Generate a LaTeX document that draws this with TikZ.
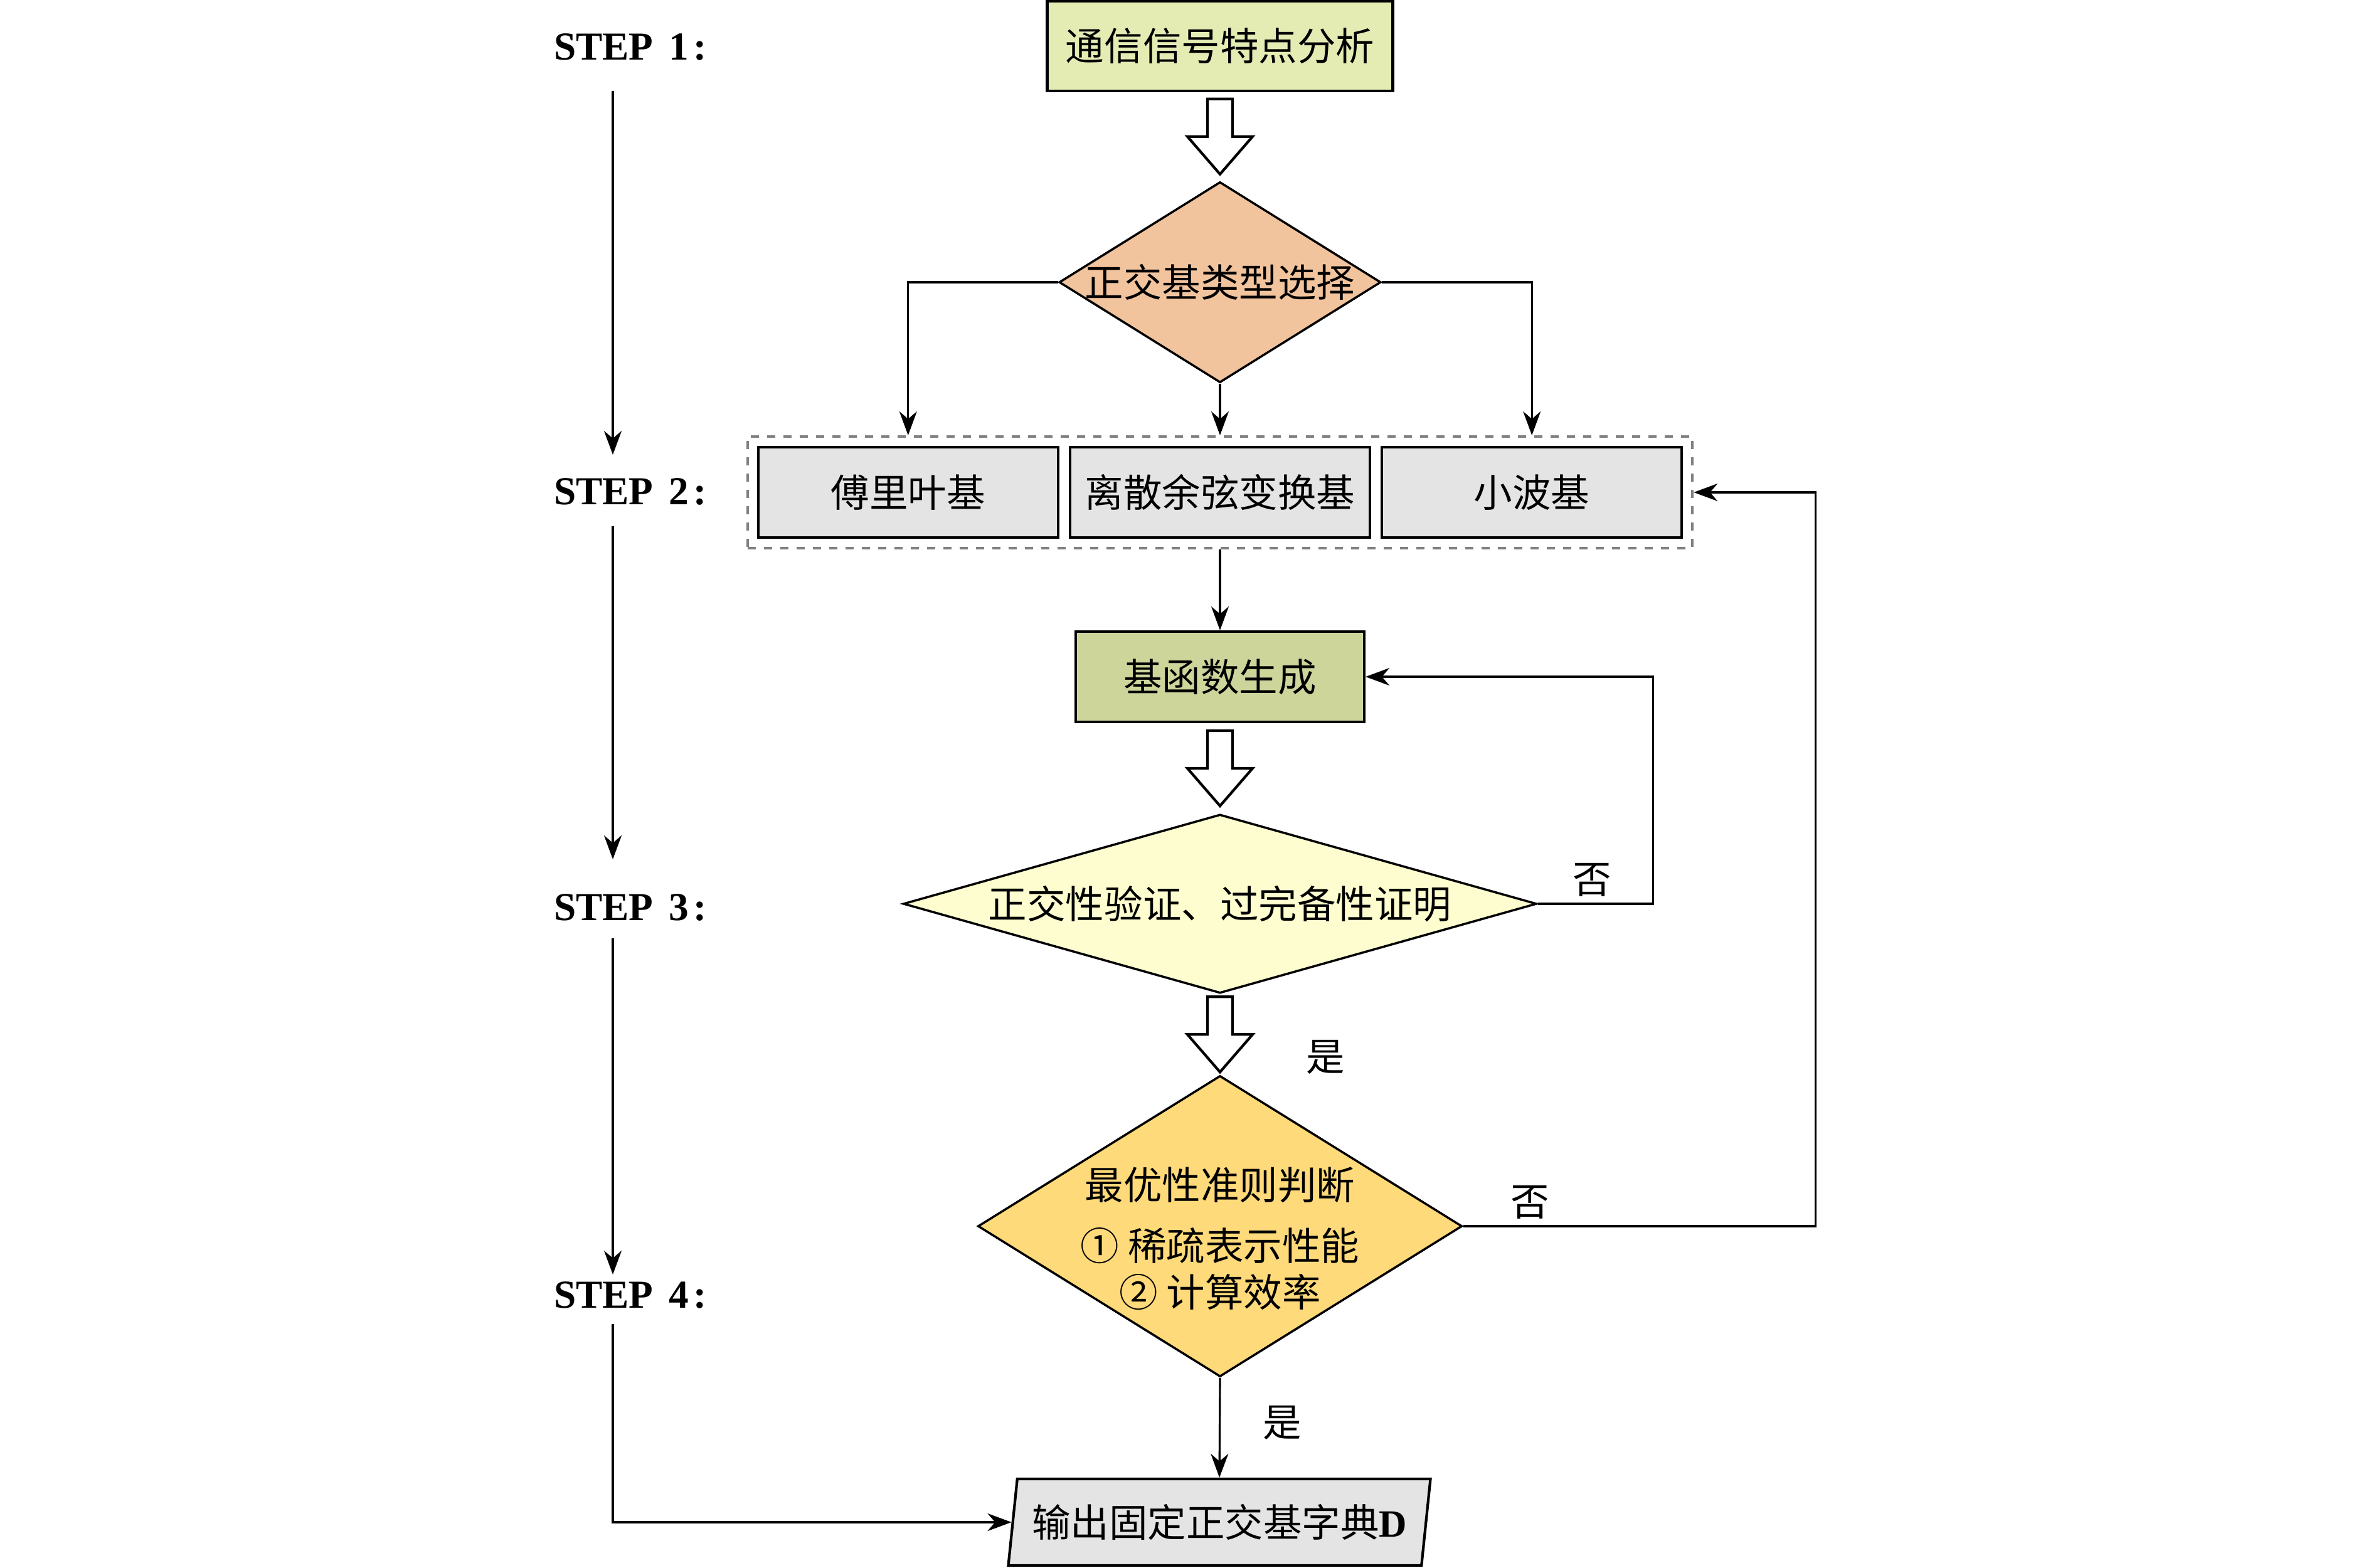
\documentclass[tikz,border=0pt]{standalone}
\usepackage{fontspec}
\newfontfamily\cjk{Noto Sans CJK SC}
\newfontfamily\stepfont{Liberation Serif}
\usetikzlibrary{positioning,shapes.geometric,arrows.meta,fit,calc}

\definecolor{sigfill}{HTML}{E4ECB4}
\definecolor{typefill}{HTML}{F2C49E}
\definecolor{basefill}{HTML}{E4E4E4}
\definecolor{genfill}{HTML}{CDD59B}
\definecolor{orthofill}{HTML}{FDFDD0}
\definecolor{optfill}{HTML}{FFDA7A}

\tikzset{
	box/.style={draw,line width=1.2pt,inner sep=0,minimum height=1.44cm,font={\fontsize{17.5pt}{21pt}\cjk}},
	choice/.style={draw,diamond,line width=1pt,inner sep=-1mm,font={\fontsize{17.5pt}{21pt}\cjk}},
	outbox/.style={draw,trapezium,trapezium left angle=76,trapezium right angle=104,trapezium stretches body,
		line width=1.2pt,fill=basefill,inner sep=0,minimum width=6.73cm,minimum height=1.38cm,font={\fontsize{17.5pt}{21pt}\cjk}},
	group/.style={draw=gray,line width=1.1pt,dash pattern=on 3.7pt off 3.7pt,inner sep=0.15cm},
	txt/.style={inner sep=0,font={\fontsize{17.5pt}{21pt}\cjk}},
	lbl/.style={inner sep=1mm,font={\fontsize{17.5pt}{21pt}\cjk}},
	steplbl/.style={inner sep=0,font={\fontsize{18pt}{20pt}\stepfont\bfseries}},
	bigarrow/.pic={\draw[line width=1.2pt,fill=white] (-0.2,0.6) -- (0.2,0.6) -- (0.2,0) -- (0.52,0) -- (0,-0.6) -- (-0.52,0) -- (-0.2,0) -- cycle;}
}

\begin{document}
\begin{tikzpicture}[>={Stealth[length=3.8mm,width=2.8mm,inset=1.2mm]},line width=0.9pt]
	\useasboundingbox (0,0) rectangle (37.8,-25);
	% step labels
	\node[steplbl] (s1) at (10.05,-0.75) {STEP\hspace{0.25cm}1\hspace{0.08cm}:};
	\node[steplbl] (s2) at (10.05,-7.84) {STEP\hspace{0.25cm}2\hspace{0.08cm}:};
	\node[steplbl] (s3) at (10.05,-14.47) {STEP\hspace{0.25cm}3\hspace{0.08cm}:};
	\node[steplbl] (s4) at (10.05,-20.65) {STEP\hspace{0.25cm}4\hspace{0.08cm}:};
	% main column
	\node[box,fill=sigfill,minimum width=5.51cm,minimum height=1.43cm] (sig) at (19.45,-0.735) {通信信号特点分析};
	\node[choice,fill=typefill,shape aspect=1.6,minimum width=5.13cm,minimum height=3.2cm] (type) at (19.45,-4.5) {正交基类型选择};
	\node[box,fill=basefill,minimum width=4.78cm] (dct) at (19.45,-7.85) {离散余弦变换基};
	\node[box,fill=basefill,minimum width=4.78cm,left=0.15cm of dct] (fourier) {傅里叶基};
	\node[box,fill=basefill,minimum width=4.78cm,right=0.15cm of dct] (wavelet) {小波基};
	\node[group,fit=(fourier)(wavelet)] (grp) {};
	\node[box,fill=genfill,minimum width=4.6cm] (gen) at (19.45,-10.79) {基函数生成};
	\node[choice,fill=orthofill,shape aspect=3.54,minimum width=10.1cm,minimum height=2.85cm] (ortho) at (19.45,-14.41) {正交性验证、过完备性证明};
	\node[choice,fill=optfill,shape aspect=1.61,minimum width=7.72cm,minimum height=4.8cm] (optim) at (19.45,-19.55) {};
	\node[txt,align=center] (optimtxt) at ([yshift=-2mm]optim.center) {最优性准则判断\\[2.3mm]① 稀疏表示性能\\② 计算效率};
	\node[outbox] (out) at (19.44,-24.27) {输出固定正交基字典{\stepfont\bfseries D}};
	% hollow arrows
	\path ($(sig.south)!0.5!(type.north)$) pic {bigarrow};
	\path ($(gen.south)!0.5!(ortho.north)$) pic {bigarrow};
	\path ($(ortho.south)!0.5!(optim.north)$) pic {bigarrow};
	% connectors
	\draw[->] (type.west) -| (fourier.north |- grp.north);
	\draw[->] (type.south) -- (type.south |- grp.north);
	\draw[->] (type.east) -| (wavelet.north |- grp.north);
	\draw[->] (grp.south) -- (gen.north);
	\draw[->] (ortho.east) -- node[lbl,above,pos=0.47] {否} ++(1.84,0) |- (gen.east);
	\node[lbl] (yes1) at ([shift={(1.68,0.28)}]optim.north) {是};
	\draw[->] (optim.east) -- node[lbl,above,pos=0.19] {否} ++(5.62,0) |- (grp.east);
	\draw[->] (optim.south) -- node[lbl,pos=0.45,xshift=1cm] {是} (out.north);
	% step arrows
	\draw[->] ([shift={(-0.28,-0.47)}]s1.south) -- ([shift={(-0.28,0.36)}]s2.north);
	\draw[->] ([shift={(-0.28,-0.32)}]s2.south) -- ([shift={(-0.28,0.54)}]s3.north);
	\draw[->] ([shift={(-0.28,-0.26)}]s3.south) -- ([shift={(-0.28,0.1)}]s4.north);
	\draw[->] ([shift={(-0.28,-0.23)}]s4.south) |- (out.west);
\end{tikzpicture}
\end{document}
